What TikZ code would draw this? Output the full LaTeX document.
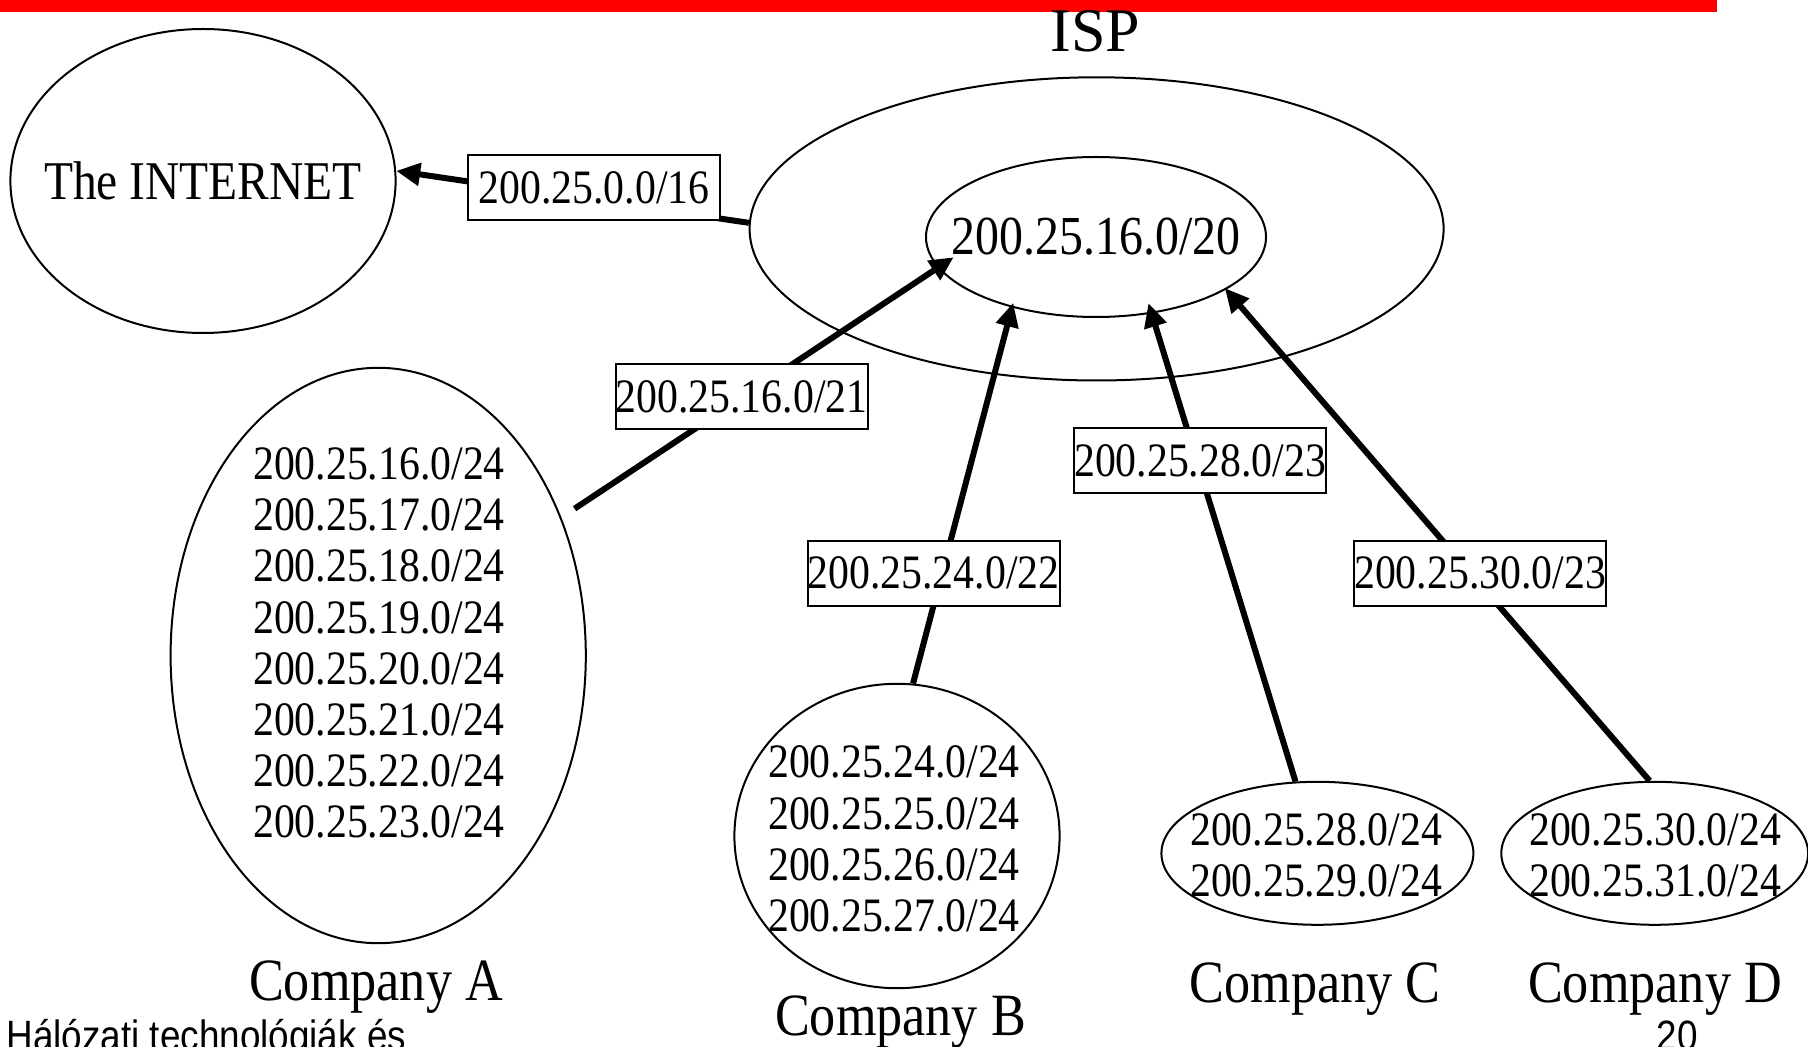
\documentclass[tikz,border=0pt]{standalone}
\usepackage{fontspec}
\setmainfont{Liberation Serif}[FakeStretch=0.87]
\newfontfamily\ispfont{Liberation Serif}
\newfontfamily\footfont{Liberation Sans}[FakeStretch=0.87]
\usetikzlibrary{arrows.meta,shapes.geometric}

\begin{document}
\begin{tikzpicture}[x=0.5pt, y=-0.5pt,
    network/.style ={ellipse, draw, line width=1pt, inner sep=0pt},
    aggbox/.style ={rectangle, draw, line width=1pt, fill=white, inner sep=0pt,
      minimum width=126pt, minimum height=32.5pt, font=\fontsize{24}{25.6}\selectfont},
    blocks/.style ={align=center, inner sep=0pt, font=\fontsize{24}{25.6}\selectfont},
    company/.style ={anchor=base, inner sep=0pt, font=\fontsize{30}{36}\selectfont},
    route/.style ={line width=3pt, -{Triangle[length=12pt,width=11pt]}}]
   \useasboundingbox (0,0) rectangle (1808,1047);
   \fill[red] (0,0) rectangle (1717,12);
   % networks
   \node[network, minimum width=192.6pt, minimum height=152pt] (net) at (203,181) {};
   \node[network, minimum width=347pt, minimum height=151.6pt] (isp) at (1096.6,228.9) {};
   \node[network, minimum width=170pt, minimum height=80pt] (inner) at (1096,237) {};
   \node[network, minimum width=207.6pt, minimum height=287.7pt] (compA) at (378.2,655.5) {};
   \node[network, minimum width=162.6pt, minimum height=152.2pt] (compB) at (897,836) {};
   \node[network, minimum width=156pt, minimum height=71.5pt] (compC) at (1317.4,853.3) {};
   \node[network, minimum width=153.4pt, minimum height=71.5pt] (compD) at (1654.7,853.3) {};
   \node[font=\fontsize{27.3}{30}\selectfont] (nettext) at (net) {The INTERNET};
   \node[font=\fontsize{27.5}{30}\selectfont] (innertext) at (inner) {200.25.16.0/20};
   \node[anchor=base, inner sep=0pt, font=\ispfont\fontsize{31}{36}\selectfont] (isptext) at (1095.5,52) {ISP};
   \node[blocks] (listA) at (379,643) {200.25.16.0/24\\200.25.17.0/24\\200.25.18.0/24\\200.25.19.0/24\\
     200.25.20.0/24\\200.25.21.0/24\\200.25.22.0/24\\200.25.23.0/24};
   \node[blocks] (listB) at (894,839) {200.25.24.0/24\\200.25.25.0/24\\200.25.26.0/24\\200.25.27.0/24};
   \node[blocks] (listC) at (1316,855) {200.25.28.0/24\\200.25.29.0/24};
   \node[blocks] (listD) at (1655,855) {200.25.30.0/24\\200.25.31.0/24};
   \node[company] (nameA) at (376,1000) {Company A};
   \node[company] (nameB) at (900.5,1035) {Company B};
   \node[company] (nameC) at (1315,1002) {Company C};
   \node[company] (nameD) at (1655,1002) {Company D};
   % routes
   \draw[route] (isp.179) to (net.3);
   \draw[route, shorten <=7.9pt, shorten >=-9.5pt] (compA.37) to (inner.191);
   \draw[route, shorten >=-2.5pt] (compB.84) to (inner.220);
   \draw[route, shorten >=-5.5pt] (compC.107) to (inner.306);
   \draw[route, shorten >=-1pt] (compD.94) to (inner.338);
   % aggregates
   \node[aggbox] (agg16) at (594,188) {200.25.0.0/16};
   \node[aggbox] (agg21) at (741.5,396.5) {200.25.16.0/21};
   \node[aggbox] (agg22) at (933.5,573) {200.25.24.0/22};
   \node[aggbox] (agg28) at (1200,460.5) {200.25.28.0/23};
   \node[aggbox] (agg30) at (1480,573) {200.25.30.0/23};
   % footer
   \node[anchor=base west, inner sep=0pt, font=\footfont\fontsize{21.2}{24}\selectfont] (course) at (6,1050) {Hálózati technológiák és};
   \node[anchor=base, inner sep=0pt, font=\footfont\fontsize{21.2}{24}\selectfont] (page) at (1677,1050) {20};
\end{tikzpicture}
\end{document}
